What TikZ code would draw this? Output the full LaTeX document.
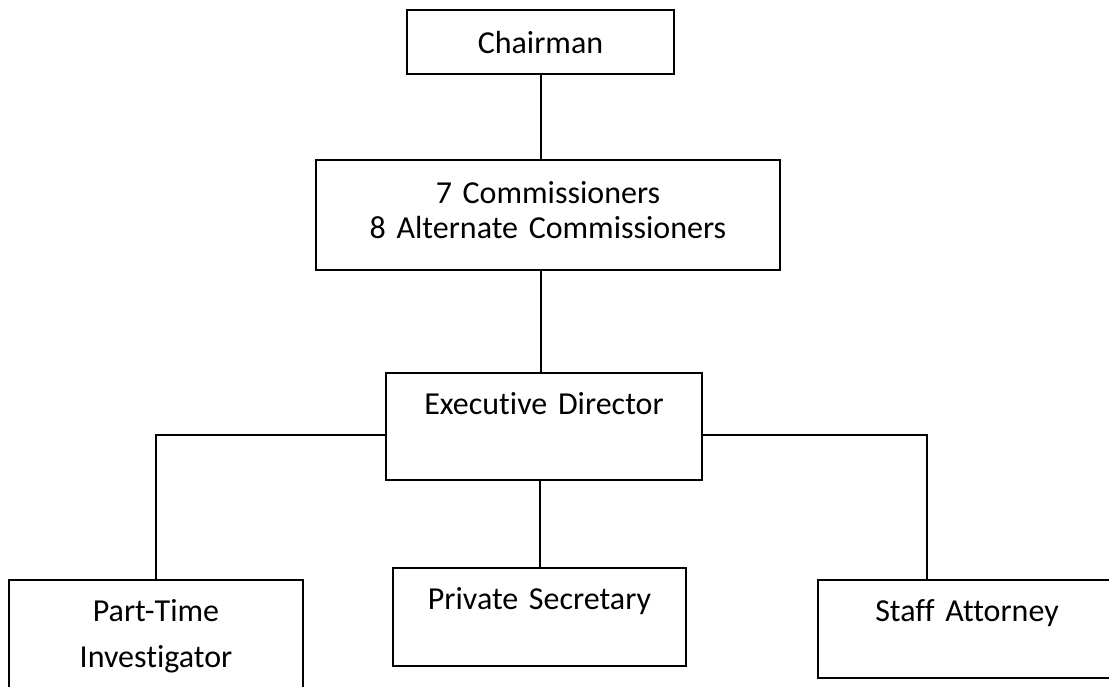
\documentclass[tikz,border=0pt]{standalone}
\usepackage{fontspec}
\setmainfont{Carlito}[Ligatures=NoCommon]

\tikzset{unit/.style={draw, line width=2pt, inner sep=0pt, align=center, anchor=north west, font=\fontsize{32}{35}\selectfont}}

\begin{document}
\begin{tikzpicture}[x=1pt, y=-1pt, line width=2pt]
\useasboundingbox (0,0) rectangle (1109,686);

\node[unit, text width=267pt, text height=43pt, text depth=21pt] (chair) at (406,9) {Chairman};
\node[unit, text width=464pt, text height=43pt, text depth=67pt] (comm) at (315,159) {7 Commissioners\\8 Alternate Commissioners};
\node[unit, text width=316pt, text height=41pt, text depth=66pt] (exec) at (385,372) {Executive Director};

\node[unit, text width=294pt, text height=41pt, text depth=140pt] (invest) at (8,579) {Part-Time\\[11pt]Investigator};
\node[unit, text width=293pt, text height=41pt, text depth=57pt] (secr) at (392,567) {Private Secretary};
\node[unit, text width=298pt, text height=41pt, text depth=57pt] (atty) at (817,579) {Staff Attorney};

\draw (chair.south) -- (chair.south |- comm.north);
\draw (chair.south |- comm.south) -- (chair.south |- exec.north);
\draw (secr.north) -- (secr.north |- exec.south);
\draw (exec.west |- 0,435) -| (invest.north);
\draw (exec.east |- 0,435) -| ([xshift=110pt]atty.north west);
\end{tikzpicture}
\end{document}
